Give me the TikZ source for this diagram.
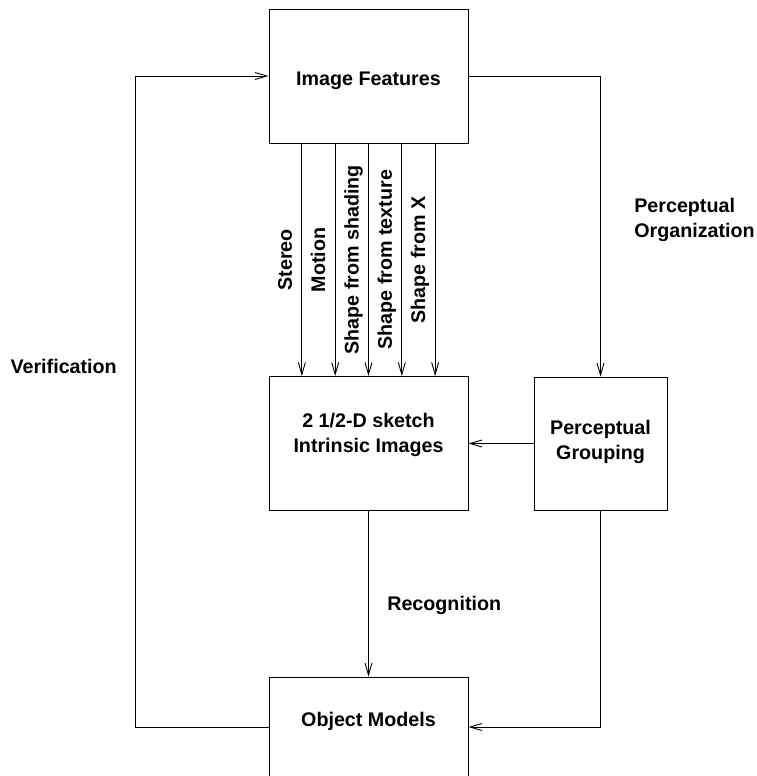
\documentclass[tikz,border=0pt]{standalone}
\usepackage{fontspec}
\setmainfont{Liberation Sans}
\usetikzlibrary{arrows.meta,calc}
\begin{document}
\begin{tikzpicture}[x=1pt,y=-1pt,line width=0.9pt,
    font=\fontsize{19.7}{25}\selectfont\bfseries,
    >={Straight Barb[length=12pt,width=7pt]},
    box/.style={draw, minimum width=199pt, minimum height=134pt, inner sep=0pt},
    vlbl/.style={rotate=90, anchor=south, text depth=0pt, inner ysep=9.5pt}]
    \clip (0,0) rectangle (757,776);
    \node[box, label={[yshift=-5pt]center:Image Features}] (feat) at (368.5,76) {};
    \node[box, label={[align=center, yshift=9pt]center:{2 1/2-D sketch\\Intrinsic Images}}] (sketch) at (368.5,443.5) {};
    \node[box, minimum width=133pt, minimum height=133pt, label={[align=center, yshift=1.5pt]center:{Perceptual\\Grouping}}] (group) at (600.5,443.5) {};
    \node[box, minimum height=100pt, label={[yshift=5.5pt]center:Object Models}] (models) at (368.5,727) {};
    % cues from the features down to the sketch
    \foreach \f/\lbl in {1/Stereo, 2/Motion, 3/Shape from shading, 4/Shape from texture, 5/Shape from X}
        \draw[->] ($(feat.south west)!\f/6!(feat.south east)$) -- node[vlbl] {\lbl} ($(sketch.north west)!\f/6!(sketch.north east)$);
    \draw[->] (feat.east) -| node[pos=0.74, anchor=west, xshift=30pt, align=left] {Perceptual\\Organization} (group.north);
    \draw[->] (group.west) -- (sketch.east);
    \draw[->] (sketch.south) -- node[pos=0.57, anchor=west, xshift=15pt] {Recognition} (models.north);
    \draw[->] (group.south) |- (models.east);
    \draw[->] (models.west) -- ++(-133,0) |- node[pos=0.277, anchor=east, xshift=-15pt] {Verification} (feat.west);
\end{tikzpicture}
\end{document}
